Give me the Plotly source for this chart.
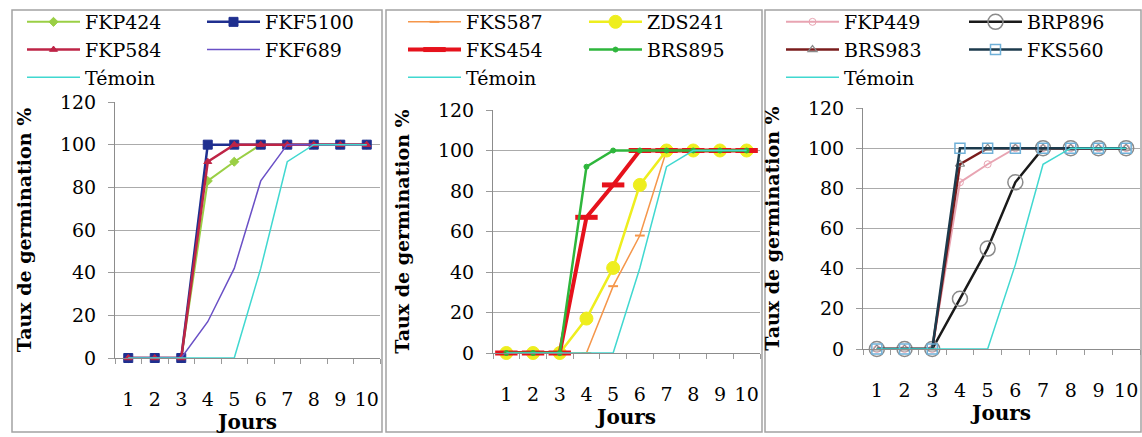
import plotly.graph_objects as go

# ---------------- data ----------------
days = [1, 2, 3, 4, 5, 6, 7, 8, 9, 10]
day_labels = ["1", "2", "3", "4", "5", "6", "7", "8", "9", "10"]
y_ticks = [0, 20, 40, 60, 80, 100, 120]

temoin = [0, 0, 0, 0, 0, 42, 92, 100, 100, 100]

# panel 1
fkp424 = [0, 0, 0, 83, 92, 100, 100, 100, 100, 100]
fkf5100 = [0, 0, 0, 100, 100, 100, 100, 100, 100, 100]
fkp584 = [0, 0, 0, 92, 100, 100, 100, 100, 100, 100]
fkf689 = [0, 0, 0, 17, 42, 83, 100, 100, 100, 100]

# panel 2
fks587 = [0, 0, 0, 0, 33, 58, 100, 100, 100, 100]
zds241 = [0, 0, 0, 17, 42, 83, 100, 100, 100, 100]
fks454 = [0, 0, 0, 67, 83, 100, 100, 100, 100, 100]
brs895 = [0, 0, 0, 92, 100, 100, 100, 100, 100, 100]

# panel 3
fkp449 = [0, 0, 0, 83, 92, 100, 100, 100, 100, 100]
brp896 = [0, 0, 0, 25, 50, 83, 100, 100, 100, 100]
brs983 = [0, 0, 0, 92, 100, 100, 100, 100, 100, 100]
fks560 = [0, 0, 0, 100, 100, 100, 100, 100, 100, 100]

# ---------------- layout helpers ----------------
W, H = 1142, 437
FONT = "DejaVu Serif"
CYAN = "#40D8D0"


def px(x):
    return x / W


def py(y):
    return 1 - y / H


# plot areas in pixels: (left, right, bottom(y of 0), top(y of 120))
areas = [(115, 380, 358, 102), (493, 760, 353, 110), (863, 1140, 349, 108)]
# legend columns: x of legend box (pixels)
leg_cols = [(22, 202), (403, 584), (781, 964)]
LEG_TOP = 3
ITEMW = 53

fig = go.Figure()


def add(panel, col, name, y, color, width, symbol=None, msize=6, mcolor=None, mline=None, mlinew=1):
    ax = "" if panel == 0 else str(panel + 1)
    leg_idx = panel * 2 + col
    legend = "legend" if leg_idx == 0 else "legend%d" % (leg_idx + 1)
    mode = "lines+markers" if symbol else "lines"
    marker = None
    if symbol:
        marker = dict(symbol=symbol, size=msize, color=mcolor or color,
                      line=dict(color=mline or mcolor or color, width=mlinew))
    fig.add_trace(go.Scatter(
        x=days, y=y, name=name, mode=mode, xaxis="x" + ax, yaxis="y" + ax,
        line=dict(color=color, width=width), marker=marker, legend=legend,
        cliponaxis=False,
    ))


# panel 1 (series order = drawing order)
add(0, 0, "FKP424", fkp424, "#9ACF45", 2, "diamond", 7)
add(0, 1, "FKF5100", fkf5100, "#1F2F8F", 2.5, "square", 9)
add(0, 0, "FKP584", fkp584, "#BE2446", 2.5, "triangle-up", 7)
add(0, 1, "FKF689", fkf689, "#6A50C6", 1.5)
add(0, 0, "Témoin", temoin, CYAN, 1.5)

# panel 2
add(1, 0, "FKS587", fks587, "#F5964A", 1.5, "line-ew", 7, mlinew=2)
add(1, 1, "ZDS241", zds241, "#EEEE1E", 2.5, "circle", 13)
add(1, 0, "FKS454", fks454, "#E6121C", 4, "line-ew", 16, mlinew=5)
add(1, 1, "BRS895", brs895, "#2EB63C", 2.5, "circle", 5)
add(1, 0, "Témoin", temoin, CYAN, 1.5)

# panel 3
add(2, 0, "FKP449", fkp449, "#E8A4B2", 2, "circle-open", 7)
add(2, 1, "BRP896", brp896, "#1A1A1A", 2.5, "circle-open", 15, mcolor="#8A8A8A", mlinew=1.5)
add(2, 0, "BRS983", brs983, "#7A1C1C", 2.5, "triangle-up-open", 8, mcolor="#8A8A8A", mlinew=1.2)
add(2, 1, "FKS560", fks560, "#1C3A4C", 2.5, "square-open", 10, mcolor="#6FB0D8", mlinew=1.5)
add(2, 0, "Témoin", temoin, CYAN, 1.5)

layout = dict(
    width=W, height=H,
    margin=dict(l=0, r=0, t=0, b=0, autoexpand=False),
    paper_bgcolor="white", plot_bgcolor="white",
    font=dict(family=FONT, color="black"),
    showlegend=True,
)

for i, (l, r, b, t) in enumerate(areas):
    ax = "" if i == 0 else str(i + 1)
    layout["xaxis" + ax] = dict(
        domain=[px(l), px(r)], anchor="y" + ax, range=[0.5, 10.5],
        tickmode="array", tickvals=days, ticktext=day_labels, ticks="",
        showgrid=False, zeroline=False, showline=True, linecolor="#8C8C8C", linewidth=1,
        minor=dict(ticks="outside", tick0=0.5, dtick=1, ticklen=5, tickcolor="#9A9A9A", showgrid=False),
        tickfont=dict(family=FONT, size=19, color="black"), ticklabelstandoff=24,
        title=dict(text="<b>Jours</b>", font=dict(family=FONT, size=20, color="black"), standoff=0),
        automargin=False, fixedrange=True,
    )
    layout["yaxis" + ax] = dict(
        domain=[py(b), py(t)], anchor="x" + ax, range=[0, 120],
        tickmode="array", tickvals=y_ticks, ticks="outside", ticklen=6, tickcolor="#9A9A9A",
        showgrid=True, gridcolor="#ABABAB", gridwidth=1, zeroline=False,
        showline=True, linecolor="#8C8C8C", linewidth=1,
        tickfont=dict(family=FONT, size=19, color="black"), ticklabelstandoff=8,
        title=dict(text="<b>Taux de germination %</b>", font=dict(family=FONT, size=19, color="black"), standoff=23),
        automargin=False, fixedrange=True,
    )

for i, (c0, c1) in enumerate(leg_cols):
    for j, cx in enumerate((c0, c1)):
        idx = i * 2 + j
        key = "legend" if idx == 0 else "legend%d" % (idx + 1)
        layout[key] = dict(
            x=px(cx), y=py(LEG_TOP), xanchor="left", yanchor="top",
            orientation="v", bgcolor="rgba(0,0,0,0)", borderwidth=0,
            font=dict(family=FONT, size=19, color="black"),
            itemwidth=ITEMW, tracegroupgap=0, traceorder="normal",
        )

# panel frames
frames = [(12, 382), (386, 762), (765, 1141)]
layout["shapes"] = [
    dict(type="rect", xref="paper", yref="paper", x0=px(a), x1=px(b), y0=py(432), y1=py(10),
         line=dict(color="#A3A3A3", width=1.5), fillcolor="rgba(0,0,0,0)", layer="below")
    for a, b in frames
]

fig.update_layout(**layout)
fig.write_html(
    "out.html",
    config={"displayModeBar": False},
    post_script="document.body.style.margin='0';document.body.style.overflow='hidden';",
)
